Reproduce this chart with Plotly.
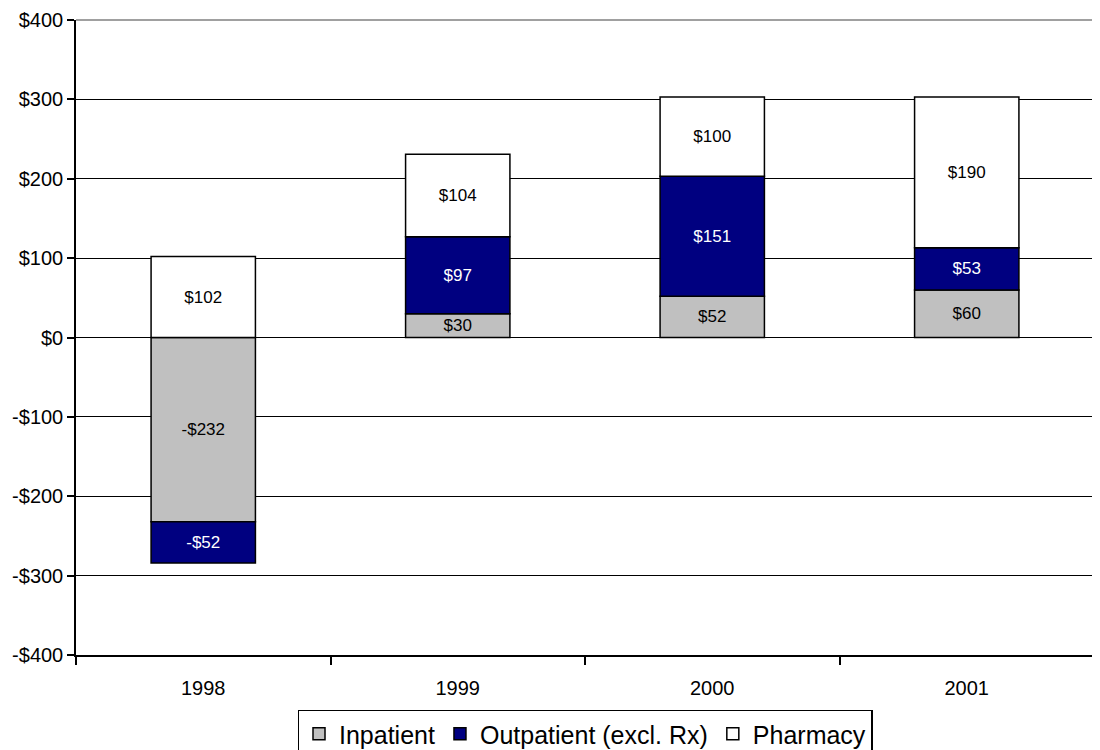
import plotly.graph_objects as go

years = ['1998', '1999', '2000', '2001']
inpatient = [-232, 30, 52, 60]
outpatient = [-52, 97, 151, 53]
pharmacy = [102, 104, 100, 190]

y_ticks = [-400, -300, -200, -100, 0, 100, 200, 300, 400]
y_tick_labels = ['-$400', '-$300', '-$200', '-$100', '$0', '$100', '$200', '$300', '$400']


def money(v):
    return f'-${abs(v)}' if v < 0 else f'${v}'


series = [
    ('Inpatient', inpatient, '#C0C0C0', 'black'),
    ('Outpatient (excl. Rx)', outpatient, '#000080', 'white'),
    ('Pharmacy', pharmacy, '#FFFFFF', 'black'),
]

FONT = 'Liberation Sans, Arial, sans-serif'

fig = go.Figure()
for name, vals, color, txtcolor in series:
    fig.add_trace(go.Bar(
        x=years,
        y=vals,
        name=name,
        marker=dict(color=color, line=dict(color='black', width=1.5)),
        text=[money(v) for v in vals],
        textposition='inside',
        insidetextanchor='middle',
        textfont=dict(family=FONT, size=17, color=txtcolor),
        hoverinfo='skip',
    ))

# grey border along the top of the plot area
fig.add_shape(type='line', xref='paper', yref='paper', x0=0, x1=1, y0=1, y1=1,
              line=dict(color='#808080', width=1.5), layer='below')

# page body has an 8px margin, so the figure is shifted by 8px
fig.update_layout(
    barmode='relative',
    bargap=0.59,
    width=1092,
    height=742,
    plot_bgcolor='white',
    paper_bgcolor='white',
    font=dict(family=FONT, size=20, color='black'),
    margin=dict(l=68, r=6, t=12, b=95, autoexpand=False),
    uniformtext=dict(minsize=17, mode='show'),
    showlegend=True,
    legend=dict(
        orientation='h',
        x=0.5, xanchor='center',
        y=-0.086, yanchor='top',
        font=dict(family=FONT, size=25),
        bordercolor='black', borderwidth=1.5,
        traceorder='normal',
        itemwidth=30,
    ),
    xaxis=dict(
        type='category',
        tickson='boundaries',
        ticks='outside', ticklen=8, tickcolor='black', tickwidth=1.5,
        ticklabelstandoff=14,
        tickfont=dict(family=FONT, size=20),
        showline=True, linecolor='black', linewidth=1.5,
        showgrid=False,
        automargin=False,
    ),
    yaxis=dict(
        range=[-400, 400],
        tickvals=y_ticks, ticktext=y_tick_labels,
        ticks='outside', ticklen=7, tickcolor='black', tickwidth=1.5,
        ticklabeloverflow='allow',
        tickfont=dict(family=FONT, size=20),
        showline=True, linecolor='black', linewidth=1.5,
        showgrid=True, gridcolor='black', gridwidth=1,
        zeroline=False,
        automargin=False,
    ),
)

fig.write_html('out.html')
